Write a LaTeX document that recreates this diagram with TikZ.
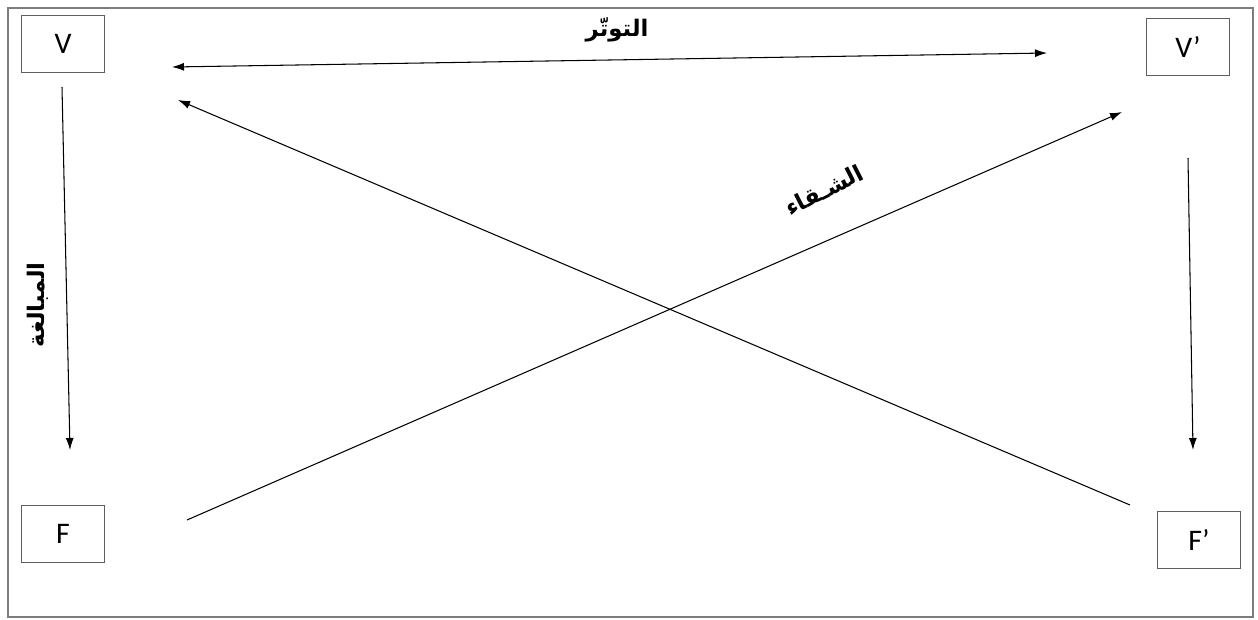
\documentclass[tikz,border=0pt]{standalone}
\usepackage{fontspec}
\setmainfont{Carlito}
\newfontfamily\arabicfont[Script=Arabic]{DejaVu Sans}
\TeXXeTstate=1
\usetikzlibrary{arrows.meta,positioning}
\definecolor{framegray}{RGB}{125,125,125}
\definecolor{boxgray}{RGB}{95,95,95}

\begin{document}
\begin{tikzpicture}[x=0.02cm,y=-0.02cm,>={Latex[length=2.4mm,width=1.6mm]},
    term/.style={draw=boxgray,line width=0.9pt,inner sep=0pt,minimum width=1.66cm,
      minimum height=1.14cm,font=\fontsize{17}{20}\selectfont},
    arlabel/.style={font=\arabicfont\bfseries\fontsize{13}{16}\selectfont},
    link/.style={->,semithick}]
        \useasboundingbox (0,0) rectangle (1258,619);
        \draw[framegray,line width=1pt] (8,8) rectangle (1253,617);
        % the four poles
        \node[term] (v) at (63,44) {V};
        \node[term] (vp) at (1188,47) {V’};
        \node[term] (f) at (63,534) {F};
        \node[term] (fp) at (1199,540) {F’};
        % free ends of the arrows
        \coordinate (tl) at (172,67);
        \coordinate (tr) at (1047,53);
        \coordinate (fa) at (187,520);
        \coordinate (fb) at (1122,112);
        \coordinate (ga) at (1130,505);
        \coordinate (gb) at (178,100);
        \coordinate (la) at (62,87);
        \coordinate (lb) at (70,450);
        \coordinate (ra) at (1188,158);
        \coordinate (rb) at (1193,450);
        \draw[link,<->] (tl) -- (tr);
        \draw[link] (fa) -- (fb);
        \draw[link] (ga) -- (gb);
        \draw[link] (la) -- (lb);
        \draw[link] (ra) -- (rb);
        % labels
        \node[arlabel] (tension) at (617,30) {\beginR التوتّر\endR};
        \node[arlabel,rotate=90] (excess) at (38,305) {\beginR المبالغة\endR};
        \node[arlabel,rotate=27] (misery) at (824,190) {\beginR الشـقاء\endR};
      \end{tikzpicture}
\end{document}
